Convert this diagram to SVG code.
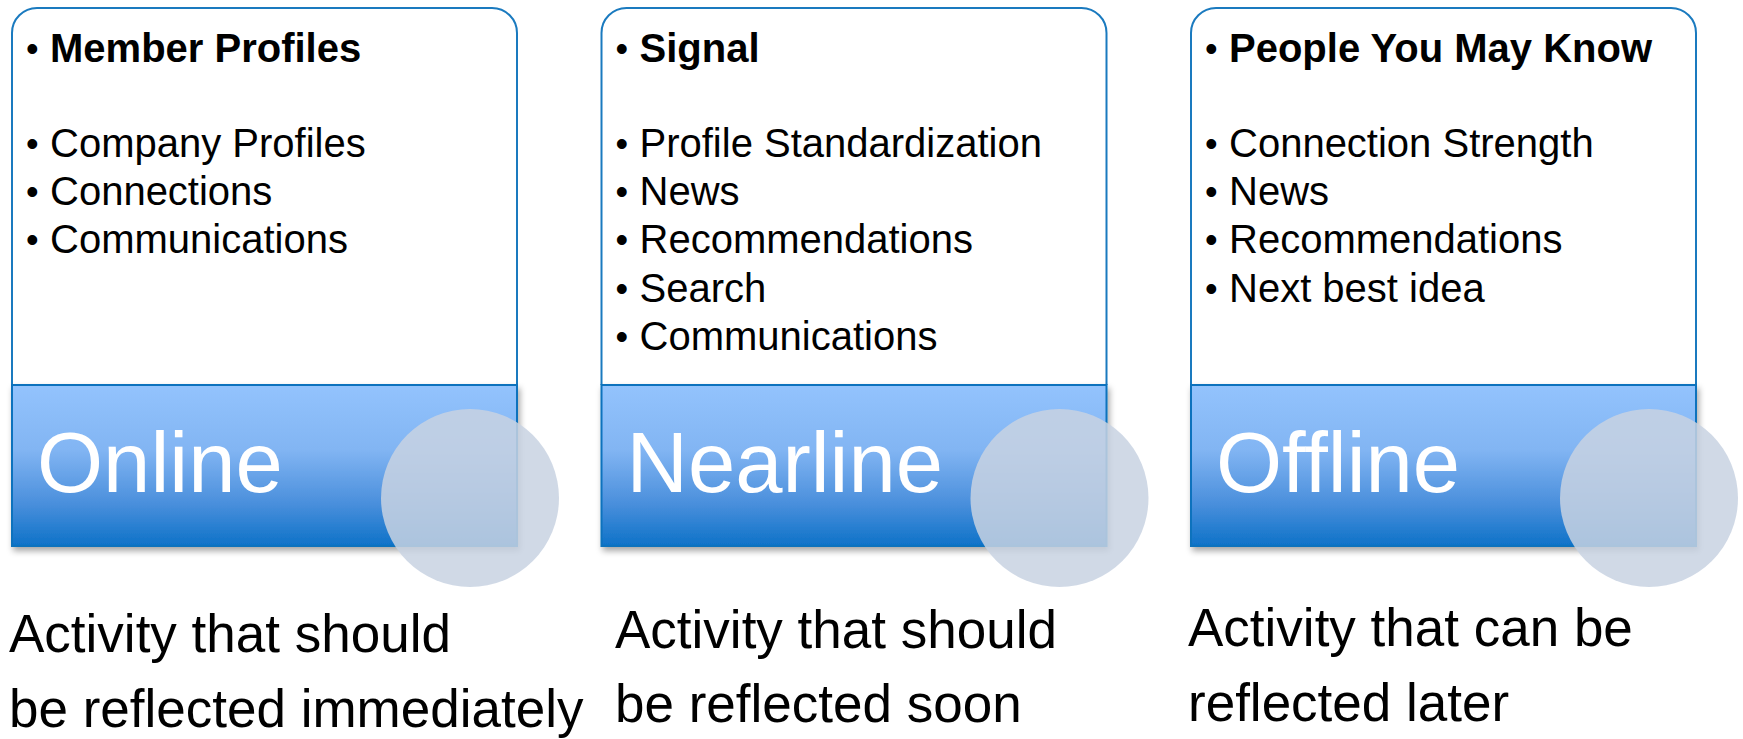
<svg xmlns="http://www.w3.org/2000/svg" width="1743" height="739" viewBox="0 0 1743 739">
  <defs>
    <linearGradient id="bandGrad" x1="0" y1="0" x2="0" y2="1">
      <stop offset="0" stop-color="#93c3fd"/>
      <stop offset="0.4" stop-color="#82b5f3"/>
      <stop offset="0.72" stop-color="#4d91dd"/>
      <stop offset="1" stop-color="#0e72c8"/>
    </linearGradient>
    <filter id="shadow" x="-5%" y="-10%" width="115%" height="130%">
      <feDropShadow dx="2" dy="4" stdDeviation="3" flood-color="#000" flood-opacity="0.35"/>
    </filter>
    <style>
      .card { fill: #ffffff; stroke: #1a7abf; stroke-width: 2; }
      .band { fill: url(#bandGrad); stroke: #0b72bd; stroke-width: 2; filter: url(#shadow); }
      .disc { fill: #c8d2e2; fill-opacity: 0.85; }
      .item { font-family: "Liberation Sans", Arial, sans-serif; font-size: 40px; fill: #000; }
      .dot { font-family: "Liberation Sans", Arial, sans-serif; font-size: 36px; fill: #000; }
      .bold { font-weight: bold; }
      .label { font-family: "Liberation Sans", Arial, sans-serif; font-size: 85px; fill: #ffffff; }
      .note { font-family: "Liberation Sans", Arial, sans-serif; font-size: 53px; fill: #000; }
    </style>
  </defs>

  <g id="connectors"></g>

  <g id="online">
    <path class="card" d="M12,385 V33 A25,25 0 0 1 37,8 H492 A25,25 0 0 1 517,33 V385"/>
    <text class="dot" x="26" y="61">•</text>
    <text class="item bold" x="50" y="62">Member Profiles</text>
    <text class="dot" x="26" y="156">•</text>
    <text class="item" x="50" y="157">Company Profiles</text>
    <text class="dot" x="26" y="204">•</text>
    <text class="item" x="50" y="205">Connections</text>
    <text class="dot" x="26" y="252">•</text>
    <text class="item" x="50" y="253">Communications</text>
    <rect class="band" x="12" y="385" width="505" height="161"/>
    <text class="label" x="37" y="492">Online</text>
    <circle class="disc" cx="470" cy="498" r="89"/>
    <text class="note" x="9" y="652">Activity that should</text>
    <text class="note" x="9" y="727">be reflected immediately</text>
  </g>

  <g id="nearline">
    <path class="card" d="M601.5,385 V33 A25,25 0 0 1 626.5,8 H1081.5 A25,25 0 0 1 1106.5,33 V385"/>
    <text class="dot" x="615.5" y="61">•</text>
    <text class="item bold" x="639.5" y="62">Signal</text>
    <text class="dot" x="615.5" y="156">•</text>
    <text class="item" x="639.5" y="157">Profile Standardization</text>
    <text class="dot" x="615.5" y="204">•</text>
    <text class="item" x="639.5" y="205">News</text>
    <text class="dot" x="615.5" y="252">•</text>
    <text class="item" x="639.5" y="253">Recommendations</text>
    <text class="dot" x="615.5" y="301">•</text>
    <text class="item" x="639.5" y="302">Search</text>
    <text class="dot" x="615.5" y="349">•</text>
    <text class="item" x="639.5" y="350">Communications</text>
    <rect class="band" x="601.5" y="385" width="505" height="161"/>
    <text class="label" x="626.5" y="492">Nearline</text>
    <circle class="disc" cx="1059.5" cy="498" r="89"/>
    <text class="note" x="615" y="648">Activity that should</text>
    <text class="note" x="615" y="722">be reflected soon</text>
  </g>

  <g id="offline">
    <path class="card" d="M1191,385 V33 A25,25 0 0 1 1216,8 H1671 A25,25 0 0 1 1696,33 V385"/>
    <text class="dot" x="1205" y="61">•</text>
    <text class="item bold" x="1229" y="62">People You May Know</text>
    <text class="dot" x="1205" y="156">•</text>
    <text class="item" x="1229" y="157">Connection Strength</text>
    <text class="dot" x="1205" y="204">•</text>
    <text class="item" x="1229" y="205">News</text>
    <text class="dot" x="1205" y="252">•</text>
    <text class="item" x="1229" y="253">Recommendations</text>
    <text class="dot" x="1205" y="301">•</text>
    <text class="item" x="1229" y="302">Next best idea</text>
    <rect class="band" x="1191" y="385" width="505" height="161"/>
    <text class="label" x="1216" y="492">Offline</text>
    <circle class="disc" cx="1649" cy="498" r="89"/>
    <text class="note" x="1188" y="646">Activity that can be</text>
    <text class="note" x="1188" y="721">reflected later</text>
  </g>
</svg>
